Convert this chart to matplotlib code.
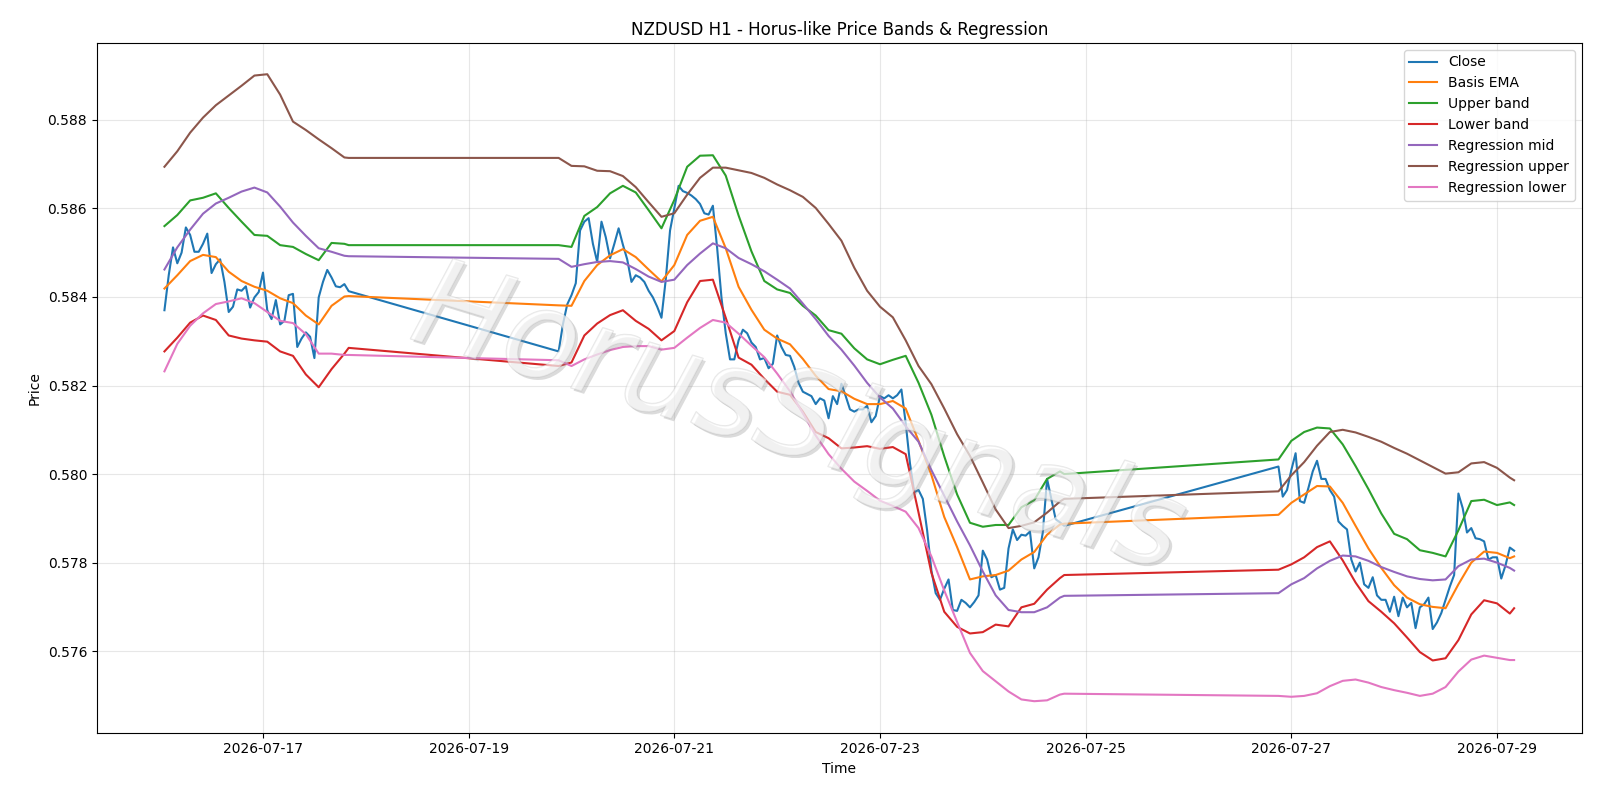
import matplotlib
matplotlib.use("Agg")
import matplotlib.pyplot as plt
import matplotlib.dates as mdates
import matplotlib.patheffects as pe
from matplotlib.ticker import FormatStrFormatter
import numpy as np
import pandas as pd

# ---- time axis (hourly bars, weekend gaps) ----
seg1 = pd.date_range("2026-07-16 01:00", "2026-07-17 20:00", freq="h")
seg2 = pd.date_range("2026-07-19 21:00", "2026-07-24 19:00", freq="h")
seg3 = pd.date_range("2026-07-26 21:00", "2026-07-29 04:00", freq="h")

# ---- close (hourly) ----
close = [
    # seg1
    0.58370, 0.58449, 0.58512, 0.58476, 0.58500, 0.58557, 0.58540, 0.58502, 0.58502, 0.58520,
    0.58543, 0.58454, 0.58474, 0.58485, 0.58434, 0.58366, 0.58378, 0.58417, 0.58414, 0.58424,
    0.58376, 0.58399, 0.58411, 0.58455, 0.58370, 0.58350, 0.58393, 0.58338, 0.58346, 0.58404,
    0.58407, 0.58287, 0.58306, 0.58320, 0.58310, 0.58262, 0.58399, 0.58434, 0.58461, 0.58444,
    0.58424, 0.58422, 0.58429, 0.58413,
    # seg2
    0.58277, 0.58338, 0.58383, 0.58404, 0.58431, 0.58550, 0.58570, 0.58578, 0.58520, 0.58479,
    0.58570, 0.58535, 0.58487, 0.58520, 0.58555, 0.58518, 0.58485, 0.58434, 0.58449, 0.58444,
    0.58434, 0.58414, 0.58399, 0.58378, 0.58353, 0.58439, 0.58550, 0.58601, 0.58651, 0.58639,
    0.58635, 0.58629, 0.58621, 0.58610,
    0.58589, 0.58586, 0.58606, 0.58510, 0.58399, 0.58318, 0.58259, 0.58259, 0.58302, 0.58326,
    0.58318, 0.58297, 0.58287, 0.58259, 0.58262, 0.58239, 0.58249, 0.58313, 0.58287, 0.58269,
    0.58267, 0.58242, 0.58206, 0.58186, 0.58181, 0.58176, 0.58158, 0.58171, 0.58166, 0.58126,
    0.58176, 0.58158, 0.58204, 0.58176, 0.58146, 0.58141, 0.58146, 0.58146, 0.58154, 0.58117,
    0.58131, 0.58176, 0.58171, 0.58178, 0.58171, 0.58178, 0.58191, 0.58115, 0.58024, 0.57959,
    0.57964, 0.57944, 0.57873, 0.57782, 0.57731, 0.57716, 0.57741, 0.57762, 0.57693, 0.57691,
    0.57716, 0.57709, 0.57699,
    0.57711, 0.57726, 0.57827, 0.57807, 0.57767, 0.57772, 0.57739, 0.57743, 0.57832, 0.57875,
    0.57851, 0.57863, 0.57861, 0.57870, 0.57787, 0.57812, 0.57868, 0.57989, 0.57944, 0.57898,
    0.57891, 0.57883,
    # seg3
    0.58017, 0.57949, 0.57964, 0.58009, 0.58047, 0.57939, 0.57935, 0.57969, 0.58006, 0.58030,
    0.57989, 0.57989, 0.57964, 0.57949, 0.57893, 0.57883, 0.57875, 0.57807, 0.57780, 0.57800,
    0.57751, 0.57743, 0.57767, 0.57726, 0.57716, 0.57716, 0.57689, 0.57723, 0.57679, 0.57721,
    0.57699, 0.57709, 0.57652, 0.57699, 0.57706, 0.57721, 0.57650, 0.57665, 0.57686, 0.57716,
    0.57746, 0.57772, 0.57956, 0.57923, 0.57868, 0.57878, 0.57855, 0.57853, 0.57848, 0.57807,
    0.57812, 0.57812, 0.57764, 0.57794, 0.57834, 0.57827,
]

# ---- smooth series, read every 3rd bar (plus each segment's last bar) ----
basis_ema = [
    0.58419, 0.58449, 0.58481, 0.58495, 0.58490, 0.58457, 0.58436, 0.58423, 0.58414, 0.58397,
    0.58386, 0.58358, 0.58338, 0.58380, 0.58401, 0.58402,
    0.58381, 0.58380, 0.58436, 0.58472, 0.58494, 0.58508, 0.58490, 0.58462, 0.58435, 0.58472,
    0.58540, 0.58572, 0.58581, 0.58510, 0.58423, 0.58371, 0.58326, 0.58306, 0.58293, 0.58260,
    0.58222, 0.58192, 0.58187, 0.58170, 0.58158, 0.58158, 0.58165, 0.58148, 0.58075, 0.57998,
    0.57903, 0.57835, 0.57762, 0.57769, 0.57772, 0.57782, 0.57807, 0.57824, 0.57863, 0.57886,
    0.57888,
    0.57908, 0.57935, 0.57954, 0.57973, 0.57972, 0.57935, 0.57883, 0.57832, 0.57788, 0.57749,
    0.57721, 0.57706, 0.57700, 0.57697, 0.57751, 0.57800, 0.57825, 0.57822, 0.57810, 0.57814,
]
upper_band = [
    0.58560, 0.58585, 0.58618, 0.58624, 0.58634, 0.58601, 0.58570, 0.58540, 0.58538, 0.58517,
    0.58513, 0.58497, 0.58483, 0.58522, 0.58520, 0.58517,
    0.58517, 0.58513, 0.58583, 0.58603, 0.58634, 0.58651, 0.58636, 0.58596, 0.58555, 0.58619,
    0.58694, 0.58719, 0.58720, 0.58674, 0.58584, 0.58503, 0.58436, 0.58417, 0.58409, 0.58380,
    0.58358, 0.58325, 0.58317, 0.58284, 0.58259, 0.58248, 0.58258, 0.58267, 0.58206, 0.58134,
    0.58040, 0.57954, 0.57890, 0.57881, 0.57885, 0.57885, 0.57925, 0.57941, 0.57989, 0.58006,
    0.58000,
    0.58033, 0.58075, 0.58095, 0.58105, 0.58103, 0.58067, 0.58018, 0.57966, 0.57911, 0.57865,
    0.57853, 0.57828, 0.57822, 0.57814, 0.57873, 0.57939, 0.57942, 0.57930, 0.57936, 0.57930,
]
lower_band = [
    0.58277, 0.58308, 0.58342, 0.58358, 0.58348, 0.58313, 0.58306, 0.58302, 0.58299, 0.58277,
    0.58267, 0.58225, 0.58196, 0.58237, 0.58272, 0.58285,
    0.58244, 0.58252, 0.58313, 0.58340, 0.58359, 0.58370, 0.58346, 0.58328, 0.58302, 0.58323,
    0.58388, 0.58436, 0.58439, 0.58353, 0.58263, 0.58247, 0.58215, 0.58186, 0.58179, 0.58141,
    0.58095, 0.58081, 0.58058, 0.58060, 0.58063, 0.58057, 0.58061, 0.58045, 0.57913, 0.57777,
    0.57689, 0.57655, 0.57640, 0.57643, 0.57660, 0.57656, 0.57699, 0.57707, 0.57739, 0.57765,
    0.57772,
    0.57784, 0.57796, 0.57812, 0.57835, 0.57848, 0.57805, 0.57755, 0.57713, 0.57689, 0.57663,
    0.57631, 0.57598, 0.57579, 0.57584, 0.57625, 0.57683, 0.57715, 0.57708, 0.57685, 0.57697,
]
reg_mid = [
    0.58462, 0.58512, 0.58552, 0.58588, 0.58611, 0.58624, 0.58638, 0.58647, 0.58636, 0.58604,
    0.58568, 0.58538, 0.58510, 0.58502, 0.58493, 0.58492,
    0.58486, 0.58468, 0.58474, 0.58479, 0.58481, 0.58478, 0.58463, 0.58446, 0.58434, 0.58439,
    0.58472, 0.58498, 0.58521, 0.58510, 0.58488, 0.58474, 0.58458, 0.58439, 0.58419, 0.58385,
    0.58350, 0.58312, 0.58281, 0.58245, 0.58206, 0.58173, 0.58148, 0.58108, 0.58073, 0.58009,
    0.57951, 0.57893, 0.57839, 0.57780, 0.57726, 0.57693, 0.57688, 0.57688, 0.57699, 0.57721,
    0.57725,
    0.57731, 0.57751, 0.57765, 0.57787, 0.57804, 0.57816, 0.57814, 0.57804, 0.57790, 0.57779,
    0.57769, 0.57763, 0.57760, 0.57762, 0.57792, 0.57807, 0.57809, 0.57800, 0.57788, 0.57782,
]
reg_upper = [
    0.58694, 0.58729, 0.58771, 0.58805, 0.58833, 0.58855, 0.58877, 0.58900, 0.58903, 0.58857,
    0.58796, 0.58777, 0.58756, 0.58736, 0.58715, 0.58714,
    0.58714, 0.58696, 0.58695, 0.58685, 0.58684, 0.58673, 0.58648, 0.58614, 0.58581, 0.58589,
    0.58631, 0.58669, 0.58692, 0.58692, 0.58686, 0.58680, 0.58669, 0.58654, 0.58641, 0.58626,
    0.58601, 0.58565, 0.58527, 0.58466, 0.58414, 0.58378, 0.58354, 0.58302, 0.58244, 0.58203,
    0.58148, 0.58090, 0.58041, 0.57981, 0.57920, 0.57878, 0.57883, 0.57891, 0.57913, 0.57938,
    0.57944,
    0.57961, 0.57997, 0.58027, 0.58064, 0.58095, 0.58100, 0.58094, 0.58084, 0.58073, 0.58059,
    0.58046, 0.58031, 0.58016, 0.58001, 0.58004, 0.58024, 0.58027, 0.58014, 0.57992, 0.57986,
]
reg_lower = [
    0.58232, 0.58294, 0.58335, 0.58363, 0.58384, 0.58390, 0.58397, 0.58386, 0.58366, 0.58346,
    0.58341, 0.58316, 0.58272, 0.58272, 0.58269, 0.58269,
    0.58257, 0.58244, 0.58259, 0.58270, 0.58280, 0.58287, 0.58289, 0.58289, 0.58281, 0.58285,
    0.58308, 0.58330, 0.58348, 0.58342, 0.58317, 0.58290, 0.58264, 0.58227, 0.58187, 0.58137,
    0.58087, 0.58045, 0.58012, 0.57983, 0.57962, 0.57940, 0.57928, 0.57915, 0.57878, 0.57814,
    0.57737, 0.57666, 0.57596, 0.57555, 0.57532, 0.57509, 0.57491, 0.57487, 0.57489, 0.57502,
    0.57504,
    0.57499, 0.57497, 0.57499, 0.57505, 0.57521, 0.57533, 0.57536, 0.57529, 0.57519, 0.57512,
    0.57506, 0.57499, 0.57504, 0.57519, 0.57554, 0.57581, 0.57590, 0.57585, 0.57580, 0.57580,
]

labels = ["Close", "Basis EMA", "Upper band", "Lower band",
          "Regression mid", "Regression upper", "Regression lower"]
colors = ["#1f77b4", "#ff7f0e", "#2ca02c", "#d62728", "#9467bd", "#8c564b", "#e377c2"]

times = seg1.append(seg2).append(seg3)


def every_third(seg):
    idx = list(range(0, len(seg), 3))
    if idx[-1] != len(seg) - 1:
        idx.append(len(seg) - 1)
    return seg[idx]


t_smooth = every_third(seg1).append(every_third(seg2)).append(every_third(seg3))
assert len(close) == len(times), (len(close), len(times))
for s in (basis_ema, upper_band, lower_band, reg_mid, reg_upper, reg_lower):
    assert len(s) == len(t_smooth), (len(s), len(t_smooth))

fig, ax = plt.subplots(figsize=(16, 8), dpi=100)
fig.subplots_adjust(left=0.0606, right=0.9885, top=0.9464, bottom=0.0843)

series = [(times, close), (t_smooth, basis_ema), (t_smooth, upper_band), (t_smooth, lower_band),
          (t_smooth, reg_mid), (t_smooth, reg_upper), (t_smooth, reg_lower)]
for (tx, vals), lab, c in zip(series, labels, colors):
    ax.plot(tx, vals, label=lab, color=c, linewidth=1.5)

ax.set_title("NZDUSD H1 - Horus-like Price Bands & Regression")
ax.set_xlabel("Time")
ax.set_ylabel("Price")
ax.grid(True, alpha=0.3)
ax.xaxis.set_major_locator(mdates.DayLocator(bymonthday=range(1, 32, 2)))
ax.xaxis.set_major_formatter(mdates.DateFormatter("%Y-%m-%d"))
ax.yaxis.set_major_formatter(FormatStrFormatter("%.3f"))
ax.legend(loc="upper right")

fig.text(0.499, 0.472, "HorusSignals", fontsize=88, style="italic", color="white", alpha=0.3,
         ha="center", va="center", rotation=-17,
         path_effects=[pe.withSimplePatchShadow(offset=(2, -2), shadow_rgbFace="#8a8a8a", alpha=0.3),
                       pe.Stroke(linewidth=1.0, foreground="#b0b0b0"), pe.Normal()])

fig.savefig("out.png", dpi=100)
